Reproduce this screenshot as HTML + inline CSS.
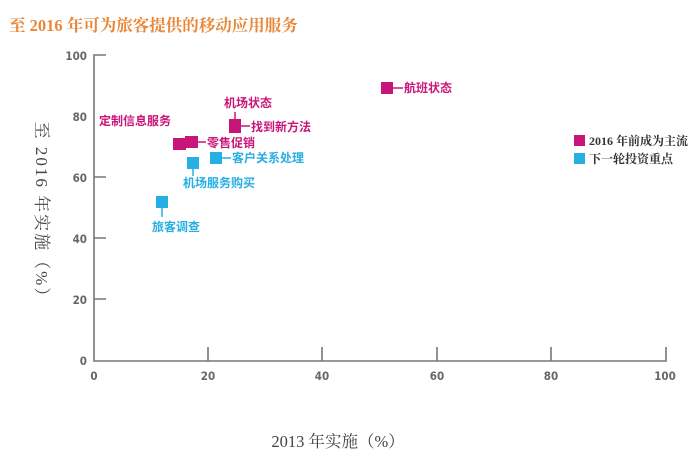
<!DOCTYPE html>
<html><head><meta charset="utf-8"><style>
html,body{margin:0;padding:0;background:#fff;}
svg{display:block;}
.m{fill:#c8157a;font-family:"Liberation Sans","Noto Sans CJK SC",sans-serif;font-weight:bold;font-size:12px;}
.c{fill:#27aee2;font-family:"Liberation Sans","Noto Sans CJK SC",sans-serif;font-weight:bold;font-size:12px;}
.t{fill:#666;font-family:"DejaVu Sans Condensed","Liberation Sans",sans-serif;font-weight:bold;font-size:11.5px;}
</style></head><body>
<svg width="700" height="460" viewBox="0 0 700 460" xmlns="http://www.w3.org/2000/svg">
<rect width="700" height="460" fill="#fff"/>
<text x="9" y="31" fill="#e8873a" font-family="'Liberation Serif','Noto Serif CJK SC',serif" font-weight="bold" font-size="16.5">至 2016 年可为旅客提供的移动应用服务</text>
<g stroke="#777" stroke-width="1.6" fill="none">
<path d="M106 55H94V361H666V347"/>
<path d="M94 238H106M94 299H106M94 177H106"/>
<path d="M208 361V347M322 361V347M437 361V347M551 361V347"/>
</g>
<g class="t" text-anchor="end">
<text x="87" y="60">100</text><text x="87" y="121">80</text><text x="87" y="182">60</text><text x="87" y="243">40</text><text x="87" y="304">20</text><text x="87" y="365">0</text>
</g>
<g class="t" text-anchor="middle">
<text x="94" y="380">0</text><text x="208" y="380">20</text><text x="322" y="380">40</text><text x="437" y="380">60</text><text x="551" y="380">80</text><text x="665" y="380">100</text>
</g>
<text x="338" y="447" text-anchor="middle" fill="#444" font-family="'Liberation Serif','Noto Serif CJK SC',serif" font-size="16.5">2013 年实施（%）</text>
<text transform="translate(36,214) rotate(90)" text-anchor="middle" fill="#444" font-family="'Liberation Serif','Noto Serif CJK SC',serif" font-size="17" letter-spacing="2">至 2016 年实施（%）</text>
<g stroke-width="1.5">
<line x1="393" y1="88" x2="403" y2="88" stroke="#c8157a"/>
<line x1="235" y1="112" x2="235" y2="120" stroke="#c8157a"/>
<line x1="241" y1="126" x2="250" y2="126" stroke="#c8157a"/>
<line x1="198" y1="142" x2="206" y2="142" stroke="#c8157a"/>
<line x1="222" y1="158" x2="231" y2="158" stroke="#27aee2"/>
<line x1="193" y1="168" x2="193" y2="176" stroke="#27aee2"/>
<line x1="162" y1="208" x2="162" y2="217" stroke="#27aee2"/>
</g>
<g fill="#c8157a">
<rect x="381" y="82" width="12" height="12"/>
<rect x="229" y="119" width="12" height="14"/>
<rect x="173" y="138" width="13" height="12"/>
<rect x="185" y="136" width="13" height="12"/>
<rect x="574" y="135" width="11" height="11"/>
</g>
<g fill="#27aee2">
<rect x="210" y="152" width="12" height="12"/>
<rect x="187" y="157" width="12" height="12"/>
<rect x="156" y="196" width="12" height="12"/>
<rect x="574" y="153" width="11" height="11"/>
</g>
<text class="m" x="404" y="92">航班状态</text>
<text class="m" x="224" y="107">机场状态</text>
<text class="m" x="251" y="131">找到新方法</text>
<text class="m" x="99" y="125">定制信息服务</text>
<text class="m" x="207" y="147">零售促销</text>
<text class="c" x="232" y="162">客户关系处理</text>
<text class="c" x="183" y="187">机场服务购买</text>
<text class="c" x="152" y="231">旅客调查</text>
<text x="589" y="145" fill="#333" font-family="'Liberation Serif','Noto Serif CJK SC',serif" font-weight="bold" font-size="12">2016 年前成为主流</text>
<text x="589" y="163" fill="#333" font-family="'Liberation Serif','Noto Serif CJK SC',serif" font-weight="bold" font-size="12">下一轮投资重点</text>
</svg>
</body></html>
